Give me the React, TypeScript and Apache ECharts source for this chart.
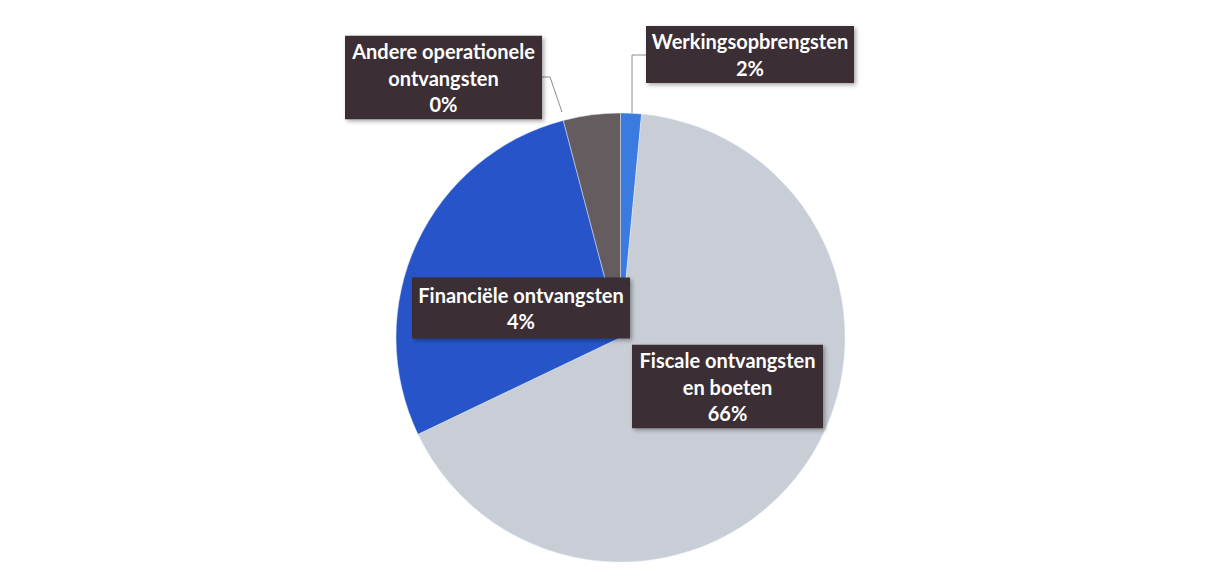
import React, { useEffect, useRef } from "react";
import * as echarts from "echarts";

// Categories in clockwise order starting at 12 o'clock
const categories = [
  "Werkingsopbrengsten",
  "Fiscale ontvangsten en boeten",
  "Financiële ontvangsten",
  "Andere operationele ontvangsten",
];
// Slice shares (percent of the circle)
const sliceValues = [1.5, 66.4, 28.0, 4.1];
// Percentages printed in the labels of the reference
const labelPercents = ["2%", "66%", "4%", "0%"];
// Wrapped label texts
const labelNames = [
  "Werkingsopbrengsten",
  "Fiscale ontvangsten\nen boeten",
  "Financiële ontvangsten",
  "Andere operationele\nontvangsten",
];
const sliceColors = ["#3b7be0", "#c9ced6", "#2755c9", "#655c60"];

// Label box layout (center x, center y, width, vertical padding)
const labelBoxes = [
  { cx: 750, cy: 54.5, w: 208, pv: 2, line: true },
  { cx: 727.5, cy: 386.5, w: 191, pv: 2, line: false },
  { cx: 521, cy: 308, w: 218, pv: 4, line: false },
  { cx: 443.5, cy: 77.5, w: 197, pv: 2, line: true },
];

export default function App() {
  const ref = useRef<HTMLDivElement>(null);
  useEffect(() => {
    if (!ref.current) return;
    const chart = echarts.init(ref.current, undefined, { renderer: "svg" });
    const data = categories.map((name, i) => ({
      name,
      value: sliceValues[i],
      itemStyle: { color: sliceColors[i] },
      label: {
        width: labelBoxes[i].w,
        padding: [labelBoxes[i].pv, 0, labelBoxes[i].pv, 0],
      },
      labelLine: { show: labelBoxes[i].line },
    }));
    chart.setOption({
      animation: false,
      backgroundColor: "#ffffff",
      series: [
        {
          type: "pie",
          center: [620.5, 337.5],
          radius: 224.5,
          startAngle: 90,
          clockwise: true,
          avoidLabelOverlap: false,
          itemStyle: { borderColor: "rgba(225,235,250,0.8)", borderWidth: 0.6 },
          label: {
            show: true,
            position: "outside",
            formatter: (p: any) =>
              labelNames[p.dataIndex] + "\n" + labelPercents[p.dataIndex],
            backgroundColor: "#3b2e34",
            color: "#ffffff",
            fontFamily: "Lato",
            fontWeight: "bold",
            fontSize: 20,
            lineHeight: 26.5,
            align: "center",
            shadowColor: "rgba(0,0,0,0.35)",
            shadowBlur: 4,
            shadowOffsetX: 2,
            shadowOffsetY: 2,
          },
          labelLine: {
            show: true,
            lineStyle: { color: "#8c8c8c", width: 1 },
          },
          labelLayout: (params: any) => {
            const i = params.dataIndex;
            const b = labelBoxes[i];
            const left = b.cx - b.w / 2;
            const right = b.cx + b.w / 2;
            let pts: any = undefined;
            if (i === 0) {
              pts = [
                [632, 113],
                [632, 55],
                [left, 55],
              ];
            } else if (i === 3) {
              pts = [
                [562, 112],
                [550, 77],
                [right, 77],
              ];
            }
            const out: any = {
              x: b.cx,
              y: b.cy,
              align: "center",
              verticalAlign: "middle",
            };
            if (pts) out.labelLinePoints = pts;
            return out;
          },
          data,
        },
      ],
    });
    return () => chart.dispose();
  }, []);
  return (
    <div
      ref={ref}
      style={{ position: "absolute", left: 0, top: 0, width: 1225, height: 576 }}
    />
  );
}
